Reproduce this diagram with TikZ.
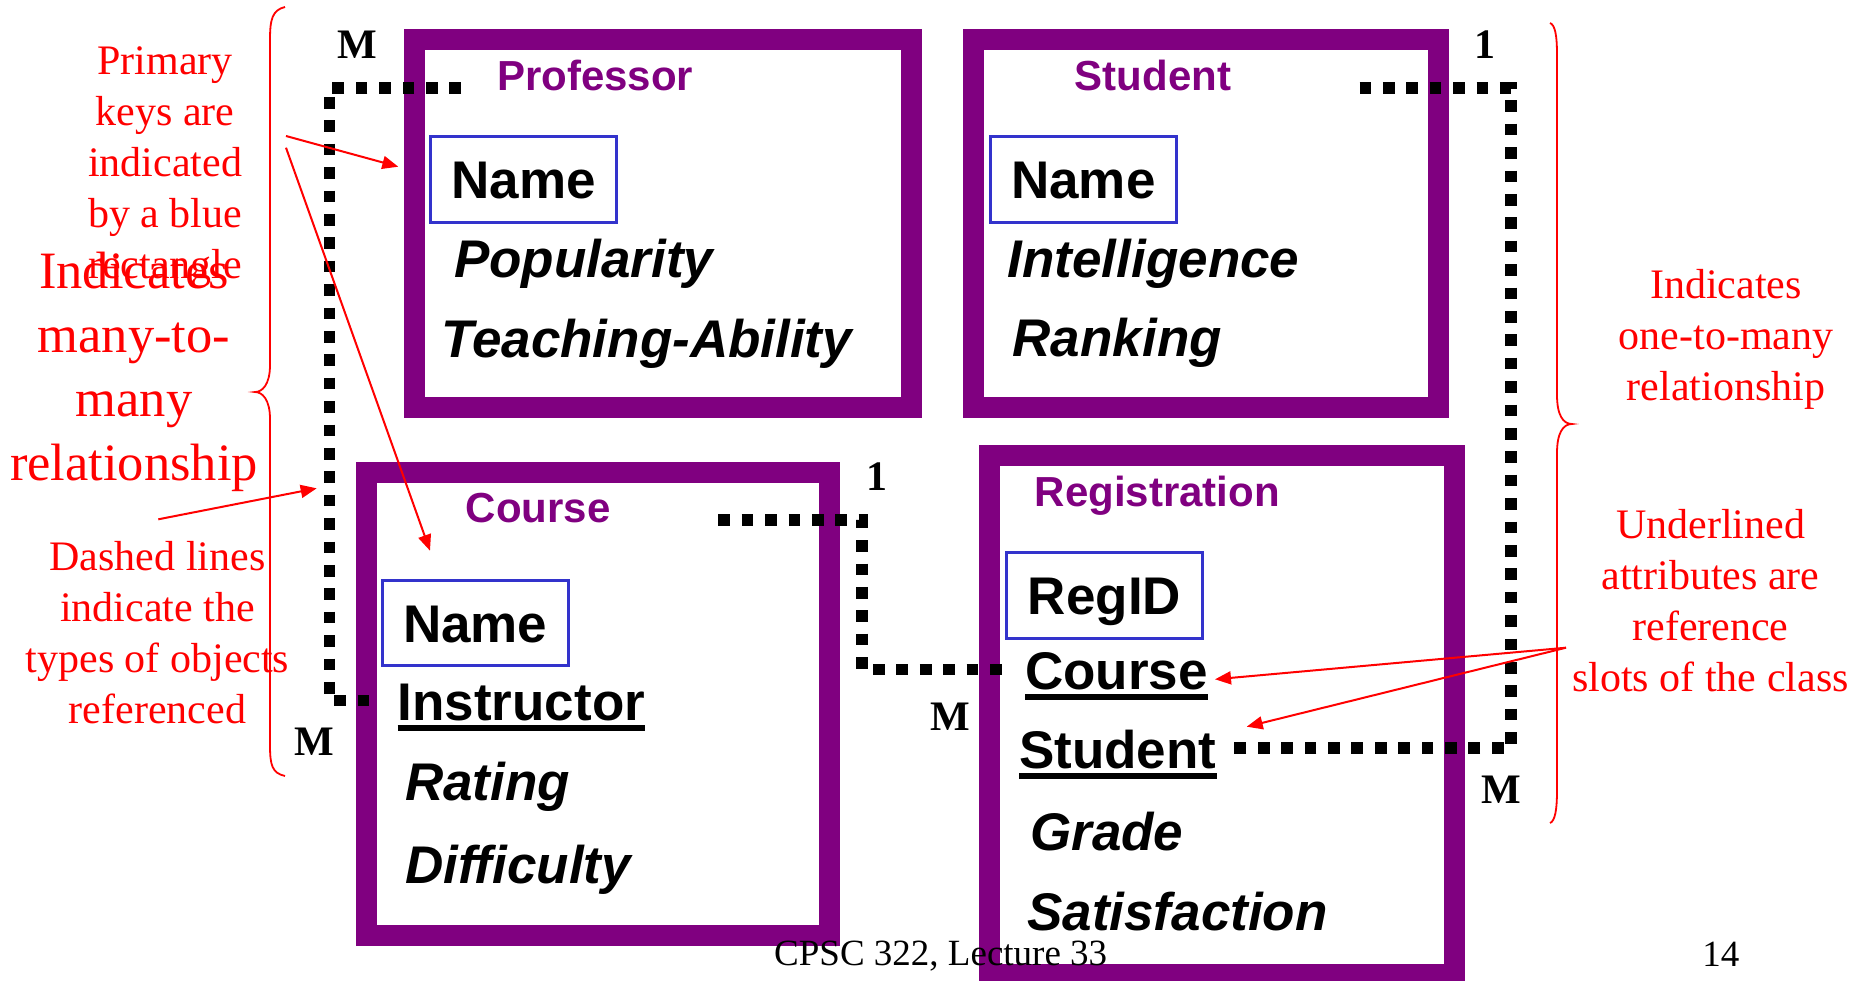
\documentclass[tikz,border=0pt]{standalone}
\usepackage{fontspec}
\setmainfont{Liberation Serif}
\setsansfont{Liberation Sans}
\usetikzlibrary{arrows.meta}
\definecolor{clspurple}{HTML}{800080}
\definecolor{keyblue}{HTML}{3333CC}
\definecolor{notered}{HTML}{FF0000}
\begin{document}
\begin{tikzpicture}[x=1pt,y=-1pt,
  classbox/.style={draw=clspurple, line width=21pt, inner sep=0pt},
  clstitle/.style={anchor=base west, inner sep=0pt, text=clspurple, font=\sffamily\bfseries\fontsize{42}{48}\selectfont},
  keybox/.style={draw=keyblue, line width=3.3pt, inner sep=0pt, text height=38pt, text depth=0pt, font=\sffamily\bfseries\fontsize{53}{60}\selectfont},
  attr/.style={anchor=base west, inner sep=0pt, font=\sffamily\bfseries\itshape\fontsize{53}{60}\selectfont},
  refattr/.style={anchor=base west, inner sep=0pt, font=\sffamily\bfseries\fontsize{53}{60}\selectfont},
  uline/.style={line width=6.5pt},
  refline/.style={line width=11.7pt, dash pattern=on 11.7pt off 11.7pt},
  card/.style={anchor=base, inner sep=0pt, font=\rmfamily\bfseries\fontsize{42}{48}\selectfont},
  note/.style={anchor=base, inner sep=0pt, text=notered, font=\rmfamily\fontsize{42}{50}\selectfont},
  bignote/.style={anchor=base, inner sep=0pt, text=notered, font=\rmfamily\fontsize{52.5}{60}\selectfont},
  notearrow/.style={draw=notered, line width=2pt, -{Triangle[length=16pt,width=13pt]}},
  brace/.style={draw=notered, line width=1.8pt},
  footer/.style={anchor=base, inner sep=0pt, font=\rmfamily\fontsize{37}{42}\selectfont}
]
\useasboundingbox (0,0) rectangle (1862,980);
\fill[white] (0,0) rectangle (1862,980);

% class boxes
\node[classbox, minimum width=497pt, minimum height=368pt] (prof) at (662.6,223.8) {};
\node[classbox, minimum width=464.2pt, minimum height=368pt] (stud) at (1206,223.8) {};
\node[classbox, minimum width=463.3pt, minimum height=463.3pt] (course) at (597.85,703.85) {};
\node[classbox, minimum width=464.6pt, minimum height=519pt] (reg) at (1222.1,715) {};

% titles
\node[clstitle] (ptitle) at (497,90.7) {Professor};
\node[clstitle] (stitle) at (1074.5,90.7) {Student};
\node[clstitle] (ctitle) at (465.5,522.7) {Course};
\node[clstitle] (rtitle) at (1034.5,506.7) {Registration};

% keys
\node[keybox, minimum width=185.7pt, minimum height=86pt] (pkey) at (523.5,179.7) {Name};
\node[keybox, minimum width=186pt, minimum height=85.7pt] (skey) at (1083.4,179.5) {Name};
\node[keybox, minimum width=186pt, minimum height=85.3pt] (ckey) at (475.3,623) {Name};
\node[keybox, minimum width=195.7pt, minimum height=85.7pt] (rkey) at (1104.5,595.5) {RegID};

% attributes
\node[attr] (ppop) at (454,277.7) {Popularity};
\node[attr] (pteach) at (441.5,357.3) {Teaching-Ability};
\node[attr] (sint) at (1007.5,277.7) {Intelligence};
\node[attr] (srank) at (1012.5,356) {Ranking};
\node[refattr] (cinst) at (397.5,720.7) {Instructor};
\node[attr] (crat) at (405,800) {Rating};
\node[attr] (cdiff) at (405,883.3) {Difficulty};
\node[refattr] (rcourse) at (1025,689.3) {Course};
\node[refattr] (rstud) at (1019,768.3) {Student};
\node[attr] (rgrade) at (1030,850) {Grade};
\node[attr] (rsat) at (1027,930) {Satisfaction};

\draw[uline] ([yshift=-7.5pt]cinst.base west) -- ([yshift=-7.5pt]cinst.base east);
\draw[uline] ([yshift=-7.5pt]rcourse.base west) -- ([yshift=-7.5pt]rcourse.base east);
\draw[uline] ([yshift=-7.5pt]rstud.base west) -- ([yshift=-7.5pt]rstud.base east);

% cardinalities
\node[card] (m1) at (357,58.3) {M};
\node[card] (m2) at (314,755) {M};
\node[card] (o1) at (876.5,490) {1};
\node[card] (m3) at (950.5,730) {M};
\node[card] (o2) at (1485,58.3) {1};
\node[card] (m4) at (1501.5,803.3) {M};

% reference connectors
\coordinate (pEnd) at (461,88);
\coordinate (iEnd) at (377,700.5);
\coordinate (sEnd) at (1359.5,88);
\coordinate (rsEnd) at (1231.7,748);
\coordinate (ccEnd) at (718.3,520);
\coordinate (rcEnd) at (1005,669.5);
\draw[refline] (pEnd) -- (329.5,88) |- (iEnd);
\draw[refline] (sEnd) -- (1511,88) |- (rsEnd);
\draw[refline] (ccEnd) -- (862,520) |- (rcEnd);

% braces
\draw[brace] (285,7) .. controls (272,10) and (270,20) .. (270,40) -- (270,365)
  .. controls (270,385) and (262,392) .. (255,392)
  .. controls (262,392) and (270,399) .. (270,419) -- (270,745)
  .. controls (270,765) and (272,773) .. (285,776);
\draw[brace] (1550,23) .. controls (1555,25) and (1557,35) .. (1557,55) -- (1557,395)
  .. controls (1557,415) and (1563,424) .. (1572,424)
  .. controls (1563,424) and (1557,433) .. (1557,453) -- (1557,790)
  .. controls (1557,810) and (1555,821) .. (1550,823);

% notes
\foreach \t [count=\i from 0] in {Primary,keys are,indicated,by a blue,rectangle}
  \node[note] (pk\i) at (165,{74+51*\i}) {\t};
\foreach \t [count=\i from 0] in {Indicates,many-to-,many,relationship}
  \node[bignote] (mm\i) at (134,{288+64*\i}) {\t};
\foreach \t [count=\i from 0] in {Dashed lines,indicate the,types of objects,referenced}
  \node[note] (dl\i) at (157.5,{570+51*\i}) {\t};
\foreach \t [count=\i from 0] in {Indicates,one-to-many,relationship}
  \node[note] (om\i) at (1726,{298+51*\i}) {\t};
\foreach \t [count=\i from 0] in {Underlined,attributes are,reference,slots of the class}
  \node[note] (ul\i) at (1710.5,{538+51.2*\i}) {\t};

% note arrows
\coordinate (a1) at (286,136);   \coordinate (t1) at (398.3,166.7);
\coordinate (a2) at (286,147.7); \coordinate (t2) at (430,550.7);
\coordinate (a3) at (158.3,519.3); \coordinate (t3) at (316.7,488.3);
\coordinate (a4) at (1566,647.7); \coordinate (t4) at (1215,679.3);
\coordinate (t5) at (1246.7,726.7);
\draw[notearrow] (a1) -- (t1);
\draw[notearrow] (a2) -- (t2);
\draw[notearrow] (a3) -- (t3);
\draw[notearrow] (a4) -- (t4);
\draw[notearrow] (a4) -- (t5);

% footer
\node[footer] (foot) at (940.7,965) {CPSC 322, Lecture 33};
\node[footer] (pagenum) at (1720.8,966) {14};
\end{tikzpicture}
\end{document}
